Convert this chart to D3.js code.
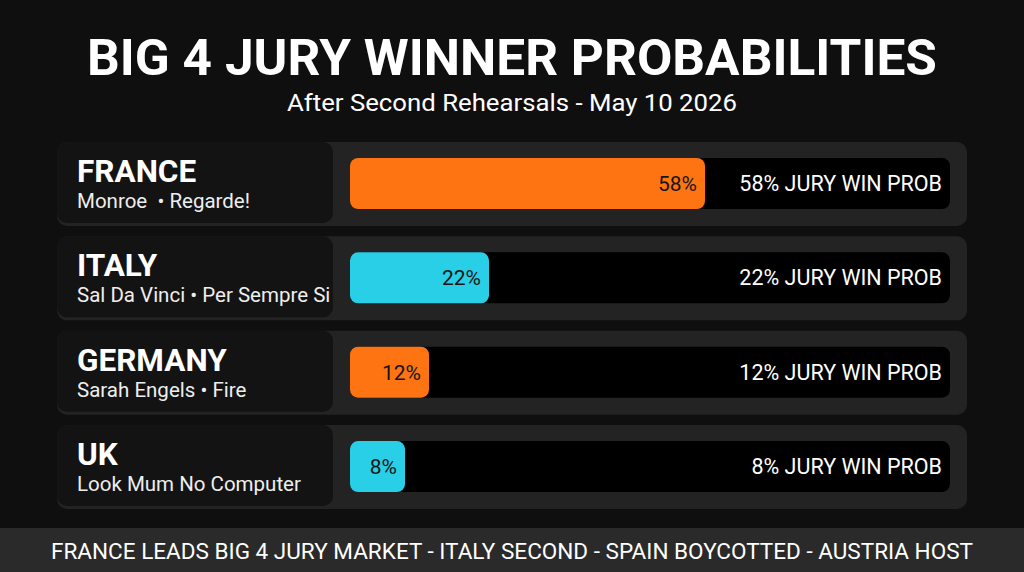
<!DOCTYPE html>
<html><head><meta charset="utf-8">
<script src="https://cdn.jsdelivr.net/npm/d3@7"></script>
<style>html,body{margin:0;padding:0;background:#0f0f0f;}svg{display:block;}text{white-space:pre;}</style>
</head><body>
<script>
const countries = ["FRANCE", "ITALY", "GERMANY", "UK"];
const songs = ["Monroe  \u2022 Regarde!", "Sal Da Vinci \u2022 Per Sempre Si", "Sarah Engels \u2022 Fire", "Look Mum No Computer"];
const probs = [58, 22, 12, 8];
const colors = ["#ff7412", "#28cfe6", "#ff7412", "#28cfe6"];
const title = "BIG 4 JURY WINNER PROBABILITIES";
const subtitle = "After Second Rehearsals - May 10 2026";
const footer = "FRANCE LEADS BIG 4 JURY MARKET - ITALY SECOND - SPAIN BOYCOTTED - AUSTRIA HOST";

const W = 1024, H = 572;
const svg = d3.select("body").append("svg").attr("width", W).attr("height", H);
svg.append("rect").attr("width", W).attr("height", H).attr("fill", "#0f0f0f");

svg.append("text").attr("x", 512).attr("y", 75).attr("text-anchor", "middle")
  .attr("font-family", "Roboto").attr("font-weight", 700).attr("font-size", 50)
  .attr("fill", "#fff").attr("textLength", 850).attr("lengthAdjust", "spacingAndGlyphs").text(title);
svg.append("text").attr("x", 512).attr("y", 111).attr("text-anchor", "middle")
  .attr("font-family", "Roboto").attr("font-size", 23)
  .attr("fill", "#fff").attr("textLength", 450).attr("lengthAdjust", "spacingAndGlyphs").text(subtitle);

const y = d3.scaleBand().domain(countries).range([142, 509]).paddingInner(0.11).paddingOuter(0);
const trackX = 350, trackW = 600;
const x = d3.scaleLinear().domain([0, 100]).range([7, 607]);

const rows = svg.selectAll("g.row").data(countries).join("g").attr("class", "row")
  .attr("transform", d => `translate(0,${y(d)})`);
const bh = y.bandwidth();

rows.append("rect").attr("x", 57).attr("y", 0).attr("width", 910).attr("height", bh)
  .attr("rx", 10).attr("fill", "#232323");
rows.append("rect").attr("x", 57).attr("y", 0).attr("width", 276).attr("height", bh - 3)
  .attr("rx", 10).attr("fill", "#131313");
rows.append("text").attr("x", 77).attr("y", 40).attr("font-family", "Roboto").attr("font-weight", 700)
  .attr("font-size", 31.5).attr("fill", "#fff").text(d => d);
rows.append("text").attr("x", 77).attr("y", 66).attr("font-family", "Roboto")
  .attr("font-size", 20.5).attr("fill", "#eee").text((d, i) => songs[i]);

rows.append("rect").attr("x", trackX).attr("y", 16).attr("width", trackW).attr("height", 51)
  .attr("rx", 8).attr("fill", "#000");
rows.append("rect").attr("x", trackX).attr("y", 16).attr("width", (d, i) => x(probs[i])).attr("height", 51)
  .attr("rx", 8).attr("fill", (d, i) => colors[i]);
rows.append("text").attr("x", (d, i) => trackX + x(probs[i]) - 8).attr("y", 49)
  .attr("text-anchor", "end").attr("font-family", "Roboto").attr("font-size", 21)
  .attr("fill", "#151515").text((d, i) => probs[i] + "%");
rows.append("text").attr("x", 942).attr("y", 49)
  .attr("text-anchor", "end").attr("font-family", "Roboto").attr("font-size", 21.5)
  .attr("fill", "#fff").text((d, i) => probs[i] + "% JURY WIN PROB");

svg.append("rect").attr("x", 0).attr("y", 528).attr("width", W).attr("height", 44).attr("fill", "#2a2a2a");
svg.append("text").attr("x", 512).attr("y", 559).attr("text-anchor", "middle")
  .attr("font-family", "Roboto").attr("font-size", 22).attr("fill", "#fff")
  .attr("textLength", 922).attr("lengthAdjust", "spacingAndGlyphs").text(footer);
</script>
</body></html>
